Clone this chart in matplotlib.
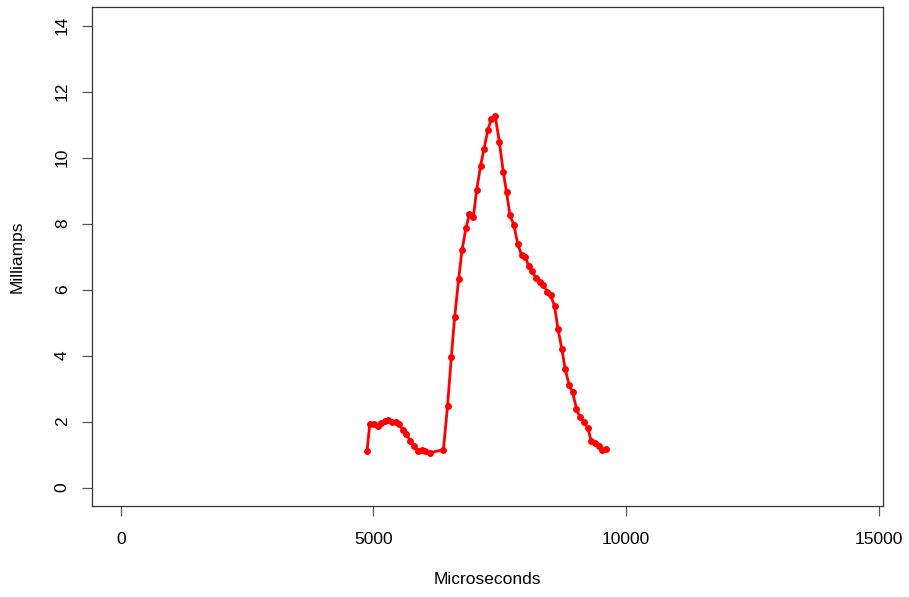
import matplotlib.pyplot as plt

plt.rcParams['font.family'] = ['Liberation Sans', 'DejaVu Sans']

# current trace: time in microseconds, current in milliamps
micros = [4875, 4928, 5007, 5086, 5151, 5231, 5296, 5362, 5441, 5507,
          5586, 5652, 5731, 5797, 5876, 5955, 6021, 6113, 6385, 6466,
          6542, 6607, 6686, 6752, 6831, 6897, 6976, 7042, 7121, 7187,
          7266, 7332, 7411, 7490, 7569, 7635, 7701, 7780, 7855, 7932,
          8004, 8070, 8142, 8215, 8294, 8360, 8439, 8504, 8583, 8650,
          8729, 8794, 8873, 8939, 9018, 9084, 9163, 9242, 9308, 9387,
          9466, 9532, 9598]
milliamps = [1.12, 1.93, 1.94, 1.88, 1.96, 2.02, 2.06, 1.98, 2.00, 1.93,
             1.73, 1.63, 1.40, 1.25, 1.12, 1.15, 1.10, 1.05, 1.15, 2.46,
             3.97, 5.16, 6.31, 7.19, 7.86, 8.28, 8.19, 9.01, 9.76, 10.26,
             10.85, 11.17, 11.25, 10.49, 9.57, 8.95, 8.25, 7.96, 7.38, 7.05,
             6.99, 6.73, 6.55, 6.35, 6.22, 6.15, 5.93, 5.83, 5.51, 4.82,
             4.19, 3.59, 3.11, 2.90, 2.39, 2.14, 2.00, 1.81, 1.41, 1.34,
             1.27, 1.13, 1.16]

xticks = [0, 5000, 10000, 15000]
yticks = [0, 2, 4, 6, 8, 10, 12, 14]

fig = plt.figure(figsize=(9.09, 5.97), dpi=100)
ax = fig.add_axes([0.1012, 0.153, 0.8698, 0.8348])

ax.plot(micros, milliamps, color='#ff0000', lw=2.0, marker='o', ms=5,
        markeredgewidth=0)

ax.set_xlim(-568, 15075)
ax.set_ylim(-0.55, 14.56)
ax.set_xticks(xticks)
ax.set_yticks(yticks)
ax.set_yticklabels([str(v) for v in yticks], rotation=90, va='center')

for s in ax.spines.values():
    s.set_color('#333333')
    s.set_linewidth(0.9)
ax.tick_params(axis='both', direction='out', length=7, width=0.9,
               color='#555555', labelsize=12.5)
ax.tick_params(axis='x', pad=12)
ax.tick_params(axis='y', pad=9)

ax.set_xlabel('Microseconds', fontsize=12.5, labelpad=18)
ax.set_ylabel('Milliamps', fontsize=12.5, labelpad=22)

fig.savefig('out.png', dpi=100)
